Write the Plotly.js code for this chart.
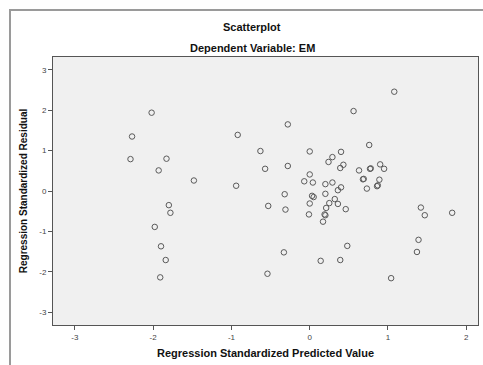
<!DOCTYPE html>
<html>
<head>
<meta charset="utf-8">
<script src="https://cdn.plot.ly/plotly-3.0.1.min.js"></script>
<style>
html,body{margin:0;padding:0;background:#fff;}
#wrap{position:relative;width:483px;height:365px;overflow:hidden;}
#chart{width:483px;height:365px;}
#frame{position:absolute;left:9px;top:9px;width:520px;height:420px;border-left:2px solid #9a9a9a;border-top:2px solid #9a9a9a;pointer-events:none;}
</style>
</head>
<body>
<div id="wrap">
<div id="chart"></div>
<div id="frame"></div>
</div>
<script>
// Regression standardized predicted values (x) and residuals (y)
const predicted = [
  -2.27, -2.29, -2.02, -1.83, -1.93, -1.80, -1.78, -1.98, -1.90, -1.84,
  -1.91, -1.48, -0.92, -0.94, -0.63, -0.57, -0.53, -0.54, -0.28, -0.28,
  -0.32, -0.31, -0.33, 0.00, 0.00, -0.07, 0.04, 0.03, 0.05, 0.00,
  -0.01, 0.14, 0.20, 0.29, 0.24, 0.29, 0.40, 0.43, 0.39, 0.20,
  0.32, 0.25, 0.21, 0.19, 0.20, 0.17, 0.36, 0.46, 0.40, 0.36,
  0.48, 0.39, 0.56, 1.08, 0.76, 0.63, 0.77, 0.78, 0.90, 0.95,
  0.68, 0.69, 0.89, 0.86, 0.87, 0.73, 1.42, 1.47, 1.82, 1.39,
  1.37, 1.04
];
const residual = [
  1.35, 0.79, 1.94, 0.80, 0.51, -0.35, -0.54, -0.89, -1.37, -1.71,
  -2.14, 0.26, 1.39, 0.13, 0.99, 0.55, -0.37, -2.05, 1.65, 0.62,
  -0.08, -0.46, -1.52, 0.98, 0.41, 0.24, 0.21, -0.12, -0.15, -0.31,
  -0.58, -1.73, 0.17, 0.21, 0.72, 0.84, 0.97, 0.65, 0.57, -0.07,
  -0.20, -0.30, -0.42, -0.58, -0.60, -0.76, -0.32, -0.45, 0.09, 0.02,
  -1.36, -1.71, 1.98, 2.46, 1.14, 0.51, 0.55, 0.56, 0.66, 0.55,
  0.29, 0.30, 0.28, 0.12, 0.14, 0.06, -0.41, -0.60, -0.54, -1.21,
  -1.51, -2.16
];
const xTickVals = [-3, -2, -1, 0, 1, 2];
const xTickText = ["-3", "-2", "-1", "0", "1", "2"];
const yTickVals = [-3, -2, -1, 0, 1, 2, 3];
const yTickText = ["-3", "-2", "-1", "0", "1", "2", "3"];

const W = 483, H = 365;
const margin = {l: 53, r: 5, t: 57, b: 40};
const pw = W - margin.l - margin.r, ph = H - margin.t - margin.b;
const px = x => (x - margin.l) / pw;
const py = y => (H - margin.b - y) / ph;

const titleFont = {family: "Liberation Sans, Arial, sans-serif", size: 11, color: "#111"};
const yTitleFont = {family: "Liberation Sans, Arial, sans-serif", size: 10, color: "#111"};

const trace = {
  type: "scatter",
  mode: "markers",
  x: predicted,
  y: residual,
  marker: {symbol: "circle-open", size: 5.5, color: "#5a5a5a", line: {width: 1, color: "#5a5a5a"}},
  hoverinfo: "x+y"
};

const layout = {
  width: W, height: H,
  margin: margin,
  paper_bgcolor: "#ffffff",
  plot_bgcolor: "#f0f0f0",
  showlegend: false,
  font: {family: "Liberation Sans, Arial, sans-serif"},
  xaxis: {
    range: [-3.28, 2.15],
    tickvals: xTickVals, ticktext: xTickText,
    showgrid: false, zeroline: false,
    showline: true, mirror: true, linecolor: "#555", linewidth: 1,
    ticks: "outside", ticklen: 4, tickcolor: "#555",
    tickfont: {size: 8, color: "#444"},
    title: {text: "<b>Regression Standardized Predicted Value</b>", font: titleFont, standoff: 8},
    automargin: false
  },
  yaxis: {
    range: [-3.32, 3.32],
    tickvals: yTickVals, ticktext: yTickText,
    showgrid: false, zeroline: false,
    showline: true, mirror: true, linecolor: "#555", linewidth: 1,
    ticks: "outside", ticklen: 4, tickcolor: "#555",
    tickfont: {size: 8, color: "#444"},
    title: {text: "<b>Regression Standardized Residual</b>", font: yTitleFont, standoff: 9},
    automargin: false
  },
  annotations: [
    {text: "<b>Scatterplot</b>", xref: "paper", yref: "paper", x: px(252), y: py(27),
     xanchor: "center", yanchor: "middle", showarrow: false, font: titleFont},
    {text: "<b>Dependent Variable: EM</b>", xref: "paper", yref: "paper", x: px(252), y: py(48),
     xanchor: "center", yanchor: "middle", showarrow: false, font: titleFont}
  ]
};

Plotly.newPlot("chart", [trace], layout, {staticPlot: true, displayModeBar: false});
</script>
</body>
</html>
